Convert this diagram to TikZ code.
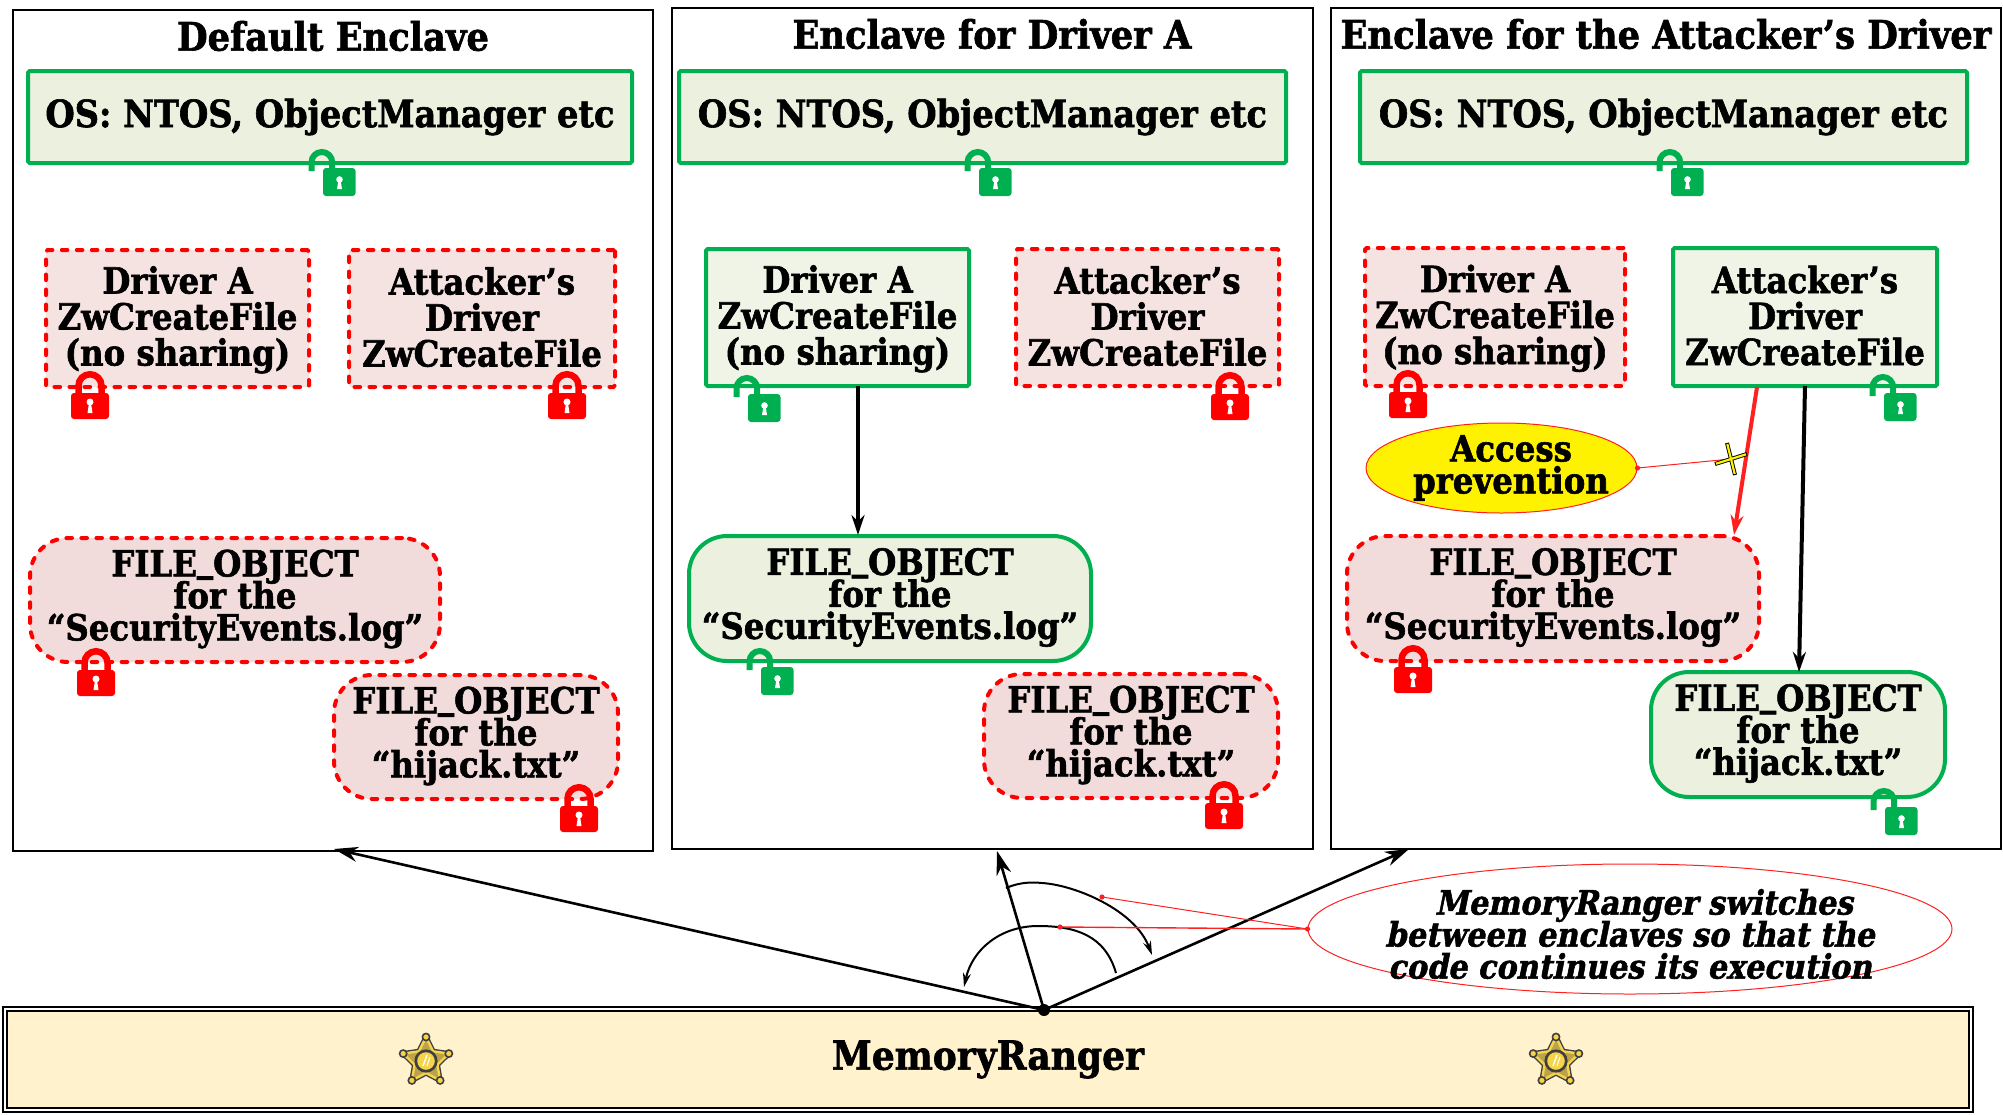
\documentclass[tikz,border=0pt]{standalone}
\usepackage{fontspec}
\usetikzlibrary{arrows.meta,shapes.geometric}
\newfontfamily\heavy[FakeStretch=0.9,FakeBold=1.6]{DejaVu Serif Bold}
\newfontfamily\heavyit[FakeStretch=0.9,FakeBold=1.6,FakeSlant=0.2]{DejaVu Serif Bold}
\definecolor{okgreen}{HTML}{00B050}
\definecolor{okfill}{HTML}{EBF1DE}
\definecolor{okfillb}{HTML}{F0F4E6}
\definecolor{denyfill}{HTML}{F5E3E1}
\definecolor{denyfillb}{HTML}{F2DCDB}
\definecolor{barfill}{HTML}{FFF2CC}
\definecolor{linkred}{HTML}{FF2020}
\definecolor{stardark}{HTML}{3F3F3F}
\definecolor{startan}{HTML}{BCA24C}
\definecolor{staryellow}{HTML}{F5D44A}
\AtBeginDocument{\global\lineskiplimit=-20pt\relax\global\normallineskiplimit=-20pt\relax}
\newcommand{\boxlines}[3]{\vrule height15pt depth0pt width0pt\relax #1\\#2\\#3\vrule height0pt depth3pt width0pt\relax}
\newcommand{\objlines}[3]{\vrule height13pt depth0pt width0pt\relax #1\\#2\\#3\vrule height0pt depth5pt width0pt\relax}
\newcommand{\fileobj}{FILE\raisebox{2.5pt}{\_}OBJECT}
\tikzset{
  boxtext/.style={align=center,inner sep=0pt,text=black,font=\heavy\fontsize{18}{18}\selectfont},
  objtext/.style={align=center,inner sep=0pt,text=black,font=\heavy\fontsize{18}{16}\selectfont},
  frame/.style={draw=black,line width=1pt,inner sep=0pt,anchor=center},
  title/.style={inner sep=0pt,font=\heavy\fontsize{19.6}{20}\selectfont},
  okbox/.style={boxtext,draw=okgreen,fill=okfillb,line width=2pt,rounded corners=0.8pt},
  osbox/.style={okbox,fill=okfill,font=\heavy\fontsize{18.7}{20}\selectfont},
  denybox/.style={boxtext,draw=red,fill=denyfill,line width=2pt,rounded corners=0.8pt,dash pattern=on 2.8pt off 4.7pt,line cap=round},
  okobj/.style={objtext,draw=okgreen,fill=okfill,line width=2pt,rounded corners=19pt},
  denyobj/.style={objtext,draw=red,fill=denyfillb,line width=2pt,rounded corners=19pt,dash pattern=on 2.8pt off 4.7pt,line cap=round},
  flow/.style={line width=2pt,-{Stealth[length=10pt,width=6.5pt]}},
  hubarrow/.style={line width=1.3pt,-{Stealth[length=12pt,width=7.5pt]}},
  switcharc/.style={line width=1pt,-{Stealth[length=7pt,width=4pt]}},
  pointer/.style={draw=linkred,line width=0.5pt},
  pics/closedlock/.style={code={
    \draw[red,line width=3.25pt] (-11.5,24) -- (-11.5,14.75)
      .. controls (-11.5,8.4) and (-6.35,3.25) .. (0,3.25)
      .. controls (6.35,3.25) and (11.5,8.4) .. (11.5,14.75) -- (11.5,24);
    \fill[red,rounded corners=1.5pt] (-19,22) rectangle (19,48);
    \fill[white] (0,31) circle[radius=1.75pt];
    \fill[white] (-1,32) -- (1,32) -- (2.5,42) -- (-2.5,42) -- cycle;
  }},
  pics/openlock/.style={code={
    \draw[okgreen,line width=3pt] (-20.5,22) -- (-20.5,13.3)
      .. controls (-20.5,7.6) and (-15.9,3) .. (-10.2,3)
      .. controls (-4.5,3) and (0.2,7.6) .. (0.2,13.3) -- (0.2,21);
    \fill[okgreen,rounded corners=1.5pt] (-9,19) rectangle (23.5,47);
    \fill[white] (7.5,30.5) circle[radius=1.65pt];
    \fill[white] (6.5,31) -- (8.5,31) -- (10,40) -- (5,40) -- cycle;
  }},
  pics/badge/.style={code={
    \draw[stardark,line width=2.6pt,line join=round] (-90:24) -- (-54:12) -- (-18:24) -- (18:12) -- (54:24) -- (90:12) -- (126:24) -- (162:12) -- (198:24) -- (234:12) -- cycle;
    \draw[staryellow,fill=startan,line width=1.2pt,line join=round] (-90:24) -- (-54:12) -- (-18:24) -- (18:12) -- (54:24) -- (90:12) -- (126:24) -- (162:12) -- (198:24) -- (234:12) -- cycle;
    \foreach \a in {-90,-18,54,126,198} {\fill[staryellow,draw=stardark,line width=0.8pt] (\a:24) circle[radius=1.8pt];}
    \fill[stardark] (0,0) circle[radius=5.8pt];
    \fill[staryellow] (0,0) circle[radius=4.4pt];
    \draw[white,line width=0.7pt] (-3,5) -- (1,-6);
    \draw[white,line width=0.5pt] (1,5) -- (4,-4);
  }},
}
\newcommand{\bx}[7]{%
  \pgfmathsetmacro\bcx{(#3+#5)/2}%
  \pgfmathsetmacro\bcy{(#4+#6)/2}%
  \pgfmathsetmacro\bw{(#5-#3)/2}%
  \pgfmathsetmacro\bh{(#6-#4)/2}%
  \node[#2,minimum width=\bw pt,minimum height=\bh pt] (#1) at (\bcx,\bcy) {#7};%
}
\begin{document}
\begin{tikzpicture}[x=0.5pt,y=-0.5pt]
\useasboundingbox (0,0) rectangle (2003,1114);
% enclave frames
\bx{frameA}{frame}{13}{10}{653}{851}{}
\bx{frameB}{frame}{672}{8}{1313}{849}{}
\bx{frameC}{frame}{1331}{8}{2001}{849}{}
\node[title] (titleA) at (333,36) {Default Enclave};
\node[title] (titleB) at (992,34) {Enclave for Driver A};
\node[title] (titleC) at (1666,34) {Enclave for the Attacker’s Driver};
% default enclave
\bx{osA}{osbox}{28}{71}{632}{163}{OS: NTOS, ObjectManager etc}
\bx{drvAa}{denybox}{46}{250}{309}{387}{\boxlines{Driver A}{ZwCreateFile}{(no sharing)}}
\bx{atkAa}{denybox}{349}{250}{615}{387}{\boxlines{Attacker’s}{Driver}{ZwCreateFile}}
\bx{logA}{denyobj}{30}{538}{440}{662}{\objlines{\fileobj}{for the}{“SecurityEvents.log”}}
\bx{hijA}{denyobj}{334}{675}{618}{799}{\objlines{\fileobj}{for the}{“hijack.txt”}}
% driver A enclave
\bx{osB}{osbox}{679}{71}{1286}{163}{OS: NTOS, ObjectManager etc}
\bx{drvAb}{okbox}{706}{249}{969}{386}{\boxlines{Driver A}{ZwCreateFile}{(no sharing)}}
\bx{atkAb}{denybox}{1016}{249}{1279}{386}{\boxlines{Attacker’s}{Driver}{ZwCreateFile}}
\bx{logB}{okobj}{689}{536}{1091}{661}{\objlines{\fileobj}{for the}{“SecurityEvents.log”}}
\bx{hijB}{denyobj}{984}{674}{1278}{798}{\objlines{\fileobj}{for the}{“hijack.txt”}}
\coordinate (driverAout) at (858,386);
\coordinate (logBin) at (858,535);
\draw[flow] (driverAout) -- (logBin);
% attacker enclave
\bx{osC}{osbox}{1360}{71}{1967}{163}{OS: NTOS, ObjectManager etc}
\bx{drvAc}{denybox}{1365}{248}{1625}{386}{\boxlines{Driver A}{ZwCreateFile}{(no sharing)}}
\bx{atkAc}{okbox}{1673}{248}{1937}{386}{\boxlines{Attacker’s}{Driver}{ZwCreateFile}}
\bx{logC}{denyobj}{1347}{536}{1759}{661}{\objlines{\fileobj}{for the}{“SecurityEvents.log”}}
\bx{hijC}{okobj}{1651}{672}{1945}{797}{\objlines{\fileobj}{for the}{“hijack.txt”}}
\node[ellipse,draw=linkred,fill=yellow,line width=0.5pt,inner sep=0pt,minimum width=135.5pt,minimum height=45pt] (access) at (1501.5,468) {};
\node[align=center,inner sep=0pt,font=\heavy\fontsize{18}{16}\selectfont] (accessText) at (1511,468) {Access\\prevention};
\coordinate (atkRedOut) at (1757,387);
\coordinate (logCin) at (1734,535);
\coordinate (atkBlackOut) at (1805,386);
\coordinate (hijCin) at (1799,672);
\draw[flow,linkred] (atkRedOut) -- (logCin);
\draw[flow] (atkBlackOut) -- (hijCin);
\coordinate (xmark) at (1731,459);
\draw[pointer] (access.east) -- (xmark);
\fill[linkred] (access.east) circle[radius=1.3pt];
\draw[black,line width=2pt] ([shift={(-16,5)}]xmark) -- ([shift={(16,-5)}]xmark) ([shift={(-4,-16)}]xmark) -- ([shift={(4,16)}]xmark);
\draw[yellow,line width=1.1pt] ([shift={(-15,4.7)}]xmark) -- ([shift={(15,-4.7)}]xmark) ([shift={(-3.7,-15)}]xmark) -- ([shift={(3.7,15)}]xmark);
% locks
\pic at (332,149) {openlock};
\pic at (90,371) {closedlock};
\pic at (567,371) {closedlock};
\pic at (96,648) {closedlock};
\pic at (579,784) {closedlock};
\pic at (988,149) {openlock};
\pic at (757,375) {openlock};
\pic at (1230,372) {closedlock};
\pic at (770,648) {openlock};
\pic at (1224,781) {closedlock};
\pic at (1680,149) {openlock};
\pic at (1408,370) {closedlock};
\pic at (1893,374) {openlock};
\pic at (1413,645) {closedlock};
\pic at (1894,788) {openlock};
% memory ranger
\bx{ranger}{draw=black,double=white,double distance=1.3pt,line width=0.8pt,fill=barfill,inner sep=0pt,font=\heavy\fontsize{20}{20}\selectfont}{5}{1009}{1971}{1110}{MemoryRanger}
\pic at (426,1061) {badge};
\pic at (1556,1061) {badge};
\coordinate (hub) at (1044,1010);
\coordinate (tipA) at (334,849);
\coordinate (tipB) at (997,851);
\coordinate (tipC) at (1409,849);
\draw[hubarrow] (hub) -- (tipA);
\draw[hubarrow] (hub) -- (tipB);
\draw[hubarrow] (hub) -- (tipC);
\fill[black] (hub) circle[radius=3pt];
% arcs
\coordinate (arcUp) at (1102,897);
\coordinate (arcLow) at (1060,927);
\draw[switcharc] (1006,888) .. controls (1020,882) and (1032,882) .. (1042,883)
  .. controls (1075,885) and (1135,910) .. (1152,955);
\draw[switcharc] (1116,973) .. controls (1105,935) and (1075,926) .. (1038,926)
  .. controls (1000,926) and (972,950) .. (964,987);
% callout
\node[ellipse,draw=linkred,line width=0.5pt,inner sep=0pt,minimum width=322pt,minimum height=65pt] (callout) at (1630,929) {};
\draw[pointer] (callout.west) -- (arcUp);
\draw[pointer,line width=0.7pt] (callout.west) -- (arcLow);
\fill[linkred] (callout.west) circle[radius=1.3pt];
\fill[linkred] (arcUp) circle[radius=1.3pt];
\fill[linkred] (arcLow) circle[radius=1.3pt];
\node[align=center,inner sep=0pt,font=\heavyit\fontsize{16.8}{16}\selectfont] (calloutText) at (1630,934) {\hspace*{14pt}MemoryRanger switches\\between enclaves so that the\\code continues its execution};
\end{tikzpicture}
\end{document}
